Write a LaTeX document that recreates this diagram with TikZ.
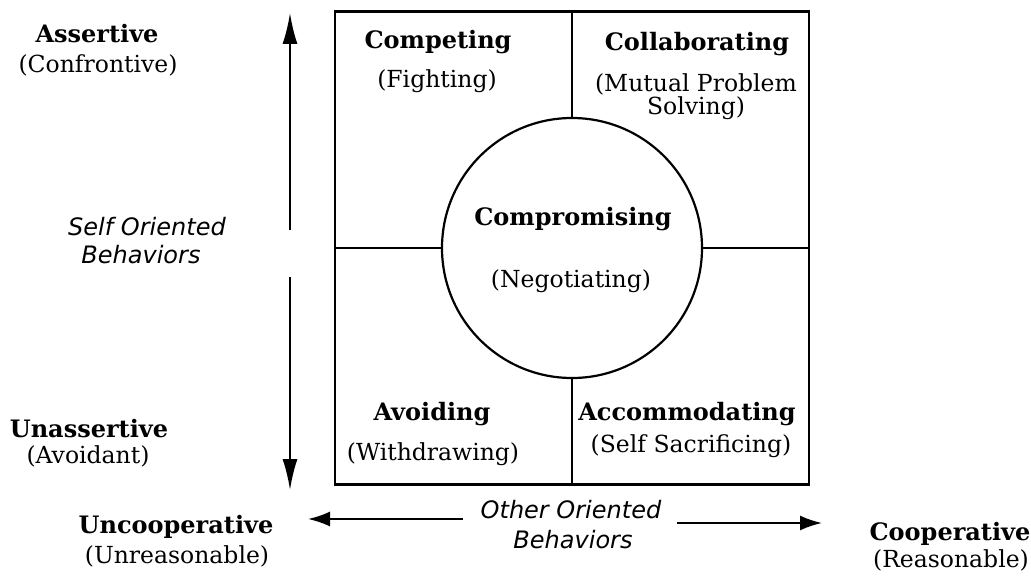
\documentclass[tikz,border=0pt]{standalone}
\usepackage{fontspec}
\setmainfont{DejaVu Serif}
\newfontfamily\orientfont{DejaVu Sans}
\usetikzlibrary{arrows.meta}

\tikzset{
  modetxt/.style={font=\fontsize{24}{26}\selectfont\bfseries, anchor=base, inner sep=0pt},
  aliastxt/.style={font=\fontsize{23.5}{25}\selectfont, anchor=base, inner sep=0pt},
  orienttxt/.style={font=\orientfont\itshape\fontsize{24}{26}\selectfont, anchor=base, inner sep=0pt},
  vaxis/.style={-{Latex[length=31pt,width=15pt]}, line width=2pt},
  haxis/.style={-{Latex[length=22pt,width=15pt]}, line width=2pt}
}

\begin{document}
\begin{tikzpicture}[x=1pt, y=-1pt, line width=2.2pt]
    \useasboundingbox (0,0) rectangle (1031,578);

    \node[rectangle,
          draw,
          minimum width = 474pt,
          minimum height = 473pt
          ] (grid) at (572,248) {};

    \node[circle,
          draw,
          fill = white,
          inner sep = 0pt,
          minimum size = 260pt
          ] (comp) at (572,248) {};

    % quadrant dividers
    \draw (grid.north) -- (comp.north);
    \draw (grid.south) -- (comp.south);
    \draw (grid.west) -- (comp.west);
    \draw (grid.east) -- (comp.east);

    % quadrant labels
    \node[modetxt] (competing) at (438,49) {Competing};
    \node[aliastxt] at (437,88) {(Fighting)};
    \node[modetxt] (collab) at (697,51) {Collaborating};
    \node[aliastxt] at (696,92) {(Mutual Problem};
    \node[aliastxt] at (696,114) {Solving)};
    \node[modetxt] (compromising) at (573,225) {Compromising};
    \node[aliastxt] at (571,287) {(Negotiating)};
    \node[modetxt] (avoiding) at (432,420) {Avoiding};
    \node[aliastxt] at (433,460) {(Withdrawing)};
    \node[modetxt] (accom) at (687,420) {Accommodating};
    \node[aliastxt] at (691,452) {(Self Sacrificing)};

    % axis ends
    \node[modetxt] (assertive) at (97,43) {Assertive};
    \node[aliastxt] at (98,73) {(Confrontive)};
    \node[modetxt] (unassertive) at (89,437) {Unassertive};
    \node[aliastxt] at (88,463) {(Avoidant)};
    \node[modetxt] (uncoop) at (176,533) {Uncooperative};
    \node[aliastxt] at (177,563) {(Unreasonable)};
    \node[modetxt] (coop) at (950,540) {Cooperative};
    \node[aliastxt] at (951,567) {(Reasonable)};

    \node[orienttxt] (self) at (147,235) {Self Oriented};
    \node[orienttxt] at (141,263) {Behaviors};
    \node[orienttxt] (other) at (571,518) {Other Oriented};
    \node[orienttxt] at (573,548) {Behaviors};

    \coordinate (uptail) at (290,230);
    \coordinate (uptip) at (290,13);
    \coordinate (downtail) at (290,277);
    \coordinate (downtip) at (290,490);
    \coordinate (lefttail) at (463,519);
    \coordinate (lefttip) at (308,519);
    \coordinate (righttail) at (677,523);
    \coordinate (righttip) at (822,523);

    \path[vaxis]
    (uptail) edge (uptip)
    (downtail) edge (downtip);
    \path[haxis]
    (lefttail) edge (lefttip)
    (righttail) edge (righttip);

\end{tikzpicture}
\end{document}
